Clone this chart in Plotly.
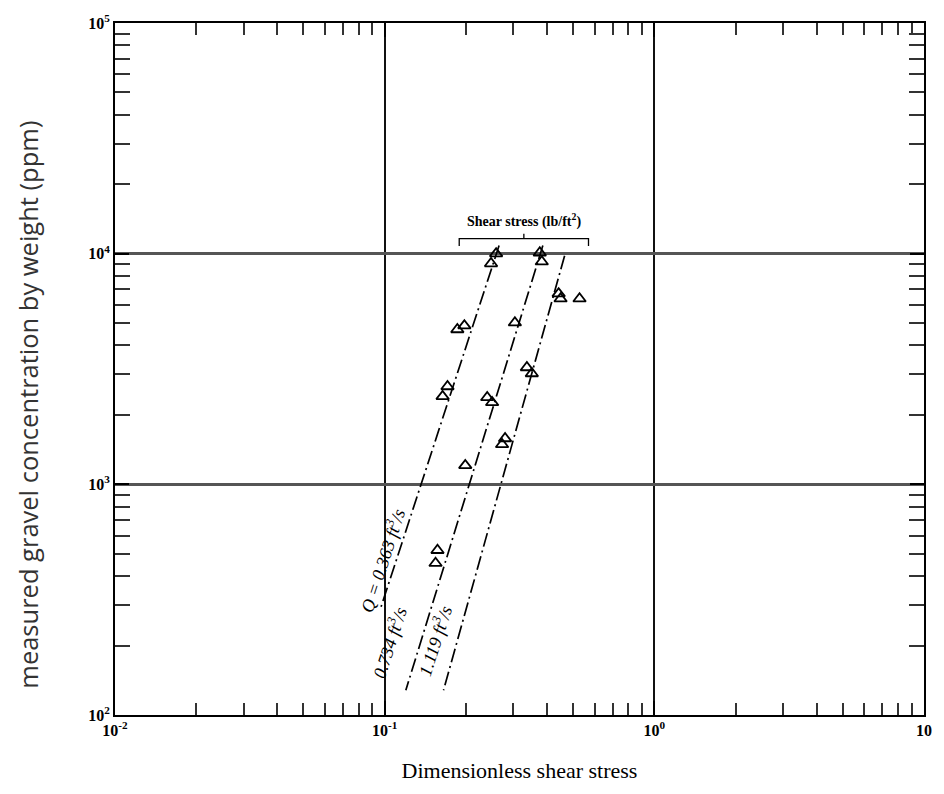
import math
import plotly.graph_objects as go

# ---- data ----
s1_x = [0.259, 0.248, 0.1975, 0.186, 0.171, 0.164]
s1_y = [10000, 9060, 4875, 4690, 2655, 2405]
s2_x = [0.376, 0.3825, 0.304, 0.240, 0.2503, 0.199, 0.157, 0.1544]
s2_y = [10090, 9230, 5020, 2380, 2265, 1208, 518, 455]
s3_x = [0.4418, 0.449, 0.528, 0.3368, 0.3513, 0.2796, 0.2725]
s3_y = [6710, 6380, 6380, 3210, 3024, 1580, 1489]

line1_x = [0.2656, 0.0961]
line1_y = [10840, 285]
line2_x = [0.386, 0.1198]
line2_y = [10840, 128]
line3_x = [0.4648, 0.1653]
line3_y = [9800, 128]

labels = ["Q = 0.363 ft<sup>3</sup>/s", "0.734 ft<sup>3</sup>/s", "1.119 ft<sup>3</sup>/s"]
label_x = [0.0977, 0.1037, 0.1530]
label_y = [469, 207, 211]

x_tickvals = [0.01, 0.1, 1, 10]
x_ticktext = ["<b>10<sup>-2</sup></b>", "<b>10<sup>-1</sup></b>", "<b>10<sup>0</sup></b>", "<b>10</b>"]
y_tickvals = [100, 1000, 10000, 100000]
y_ticktext = ["<b>10<sup>2</sup></b>", "<b>10<sup>3</sup></b>", "<b>10<sup>4</sup></b>", "<b>10<sup>5</sup></b>"]

brace_x = [0.189, 0.57]
brace_y = 11620

fig = go.Figure()
dash = "14px,4px,2px,4px"
for lx, ly in [(line1_x, line1_y), (line2_x, line2_y), (line3_x, line3_y)]:
    fig.add_trace(go.Scatter(x=lx, y=ly, mode="lines",
                             line=dict(color="black", width=1.7, dash=dash),
                             showlegend=False, hoverinfo="skip"))
for sx, sy in [(s1_x, s1_y), (s2_x, s2_y), (s3_x, s3_y)]:
    fig.add_trace(go.Scatter(x=sx, y=sy, mode="markers",
                             marker=dict(symbol="triangle-up-open", size=11,
                                         color="black", line=dict(width=1.8)),
                             showlegend=False))

for t, lx, ly in zip(labels, label_x, label_y):
    fig.add_annotation(x=math.log10(lx), y=math.log10(ly), xref="x", yref="y",
                       text="<i>" + t + "</i>",
                       showarrow=False, textangle=-72,
                       font=dict(family="Liberation Serif", size=18, color="black"))

# brace over "Shear stress" label
bx0, bx1 = brace_x
bmid = 10 ** ((math.log10(bx0) + math.log10(bx1)) / 2)
fig.add_trace(go.Scatter(x=[bx0, bx0, bmid, bmid, bmid, bx1, bx1],
                         y=[brace_y * 0.93, brace_y, brace_y, brace_y * 1.05, brace_y, brace_y, brace_y * 0.93],
                         mode="lines", line=dict(color="black", width=1.3),
                         showlegend=False, hoverinfo="skip"))
fig.add_annotation(x=math.log10(bmid), y=math.log10(brace_y * 1.2), xref="x", yref="y",
                   text="<b>Shear stress (lb/ft<sup>2</sup>)</b>", showarrow=False,
                   font=dict(family="Liberation Serif", size=14, color="black"))

# y-axis title placed as in the reference
fig.add_annotation(x=-0.107, y=0.449, xref="paper", yref="paper", xanchor="center", yanchor="middle",
                   text="measured gravel concentration by weight (ppm)",
                   showarrow=False, textangle=-90,
                   font=dict(family="Open Sans", size=25.5, color="#333"))

axis_common = dict(type="log", showline=True, linecolor="black", linewidth=2,
                   mirror="allticks", ticks="inside", ticklen=14, tickwidth=2,
                   tickcolor="black", showgrid=True, gridwidth=2,
                   zeroline=False,
                   tickfont=dict(family="Liberation Serif", size=16, color="black"))

x_minor = [m * 10 ** e for e in range(-2, 1) for m in range(2, 10)]
y_minor = [m * 10 ** e for e in range(2, 5) for m in range(2, 10)]

fig.update_xaxes(**axis_common, range=[-2, 1], tickmode="array", gridcolor="#111",
                 tickvals=x_tickvals, ticktext=x_ticktext,
                 minor=dict(tickmode="array", tickvals=x_minor, ticks="inside",
                            ticklen=12, tickwidth=1.6, tickcolor="#333", showgrid=False),
                 title=dict(text="Dimensionless shear stress", standoff=24,
                            font=dict(family="Liberation Serif", size=22, color="black")))
fig.update_yaxes(**axis_common, range=[2, 5], tickmode="array", gridcolor="#555",
                 tickvals=y_tickvals, ticktext=y_ticktext,
                 minor=dict(tickmode="array", tickvals=y_minor, ticks="inside",
                            ticklen=15, tickwidth=1.6, tickcolor="#333", showgrid=False))
fig.update_yaxes(gridwidth=3)

fig.update_layout(width=944, height=794, paper_bgcolor="white", plot_bgcolor="white",
                  margin=dict(l=115, r=14, t=22, b=79), showlegend=False)

fig.write_html("out.html")
